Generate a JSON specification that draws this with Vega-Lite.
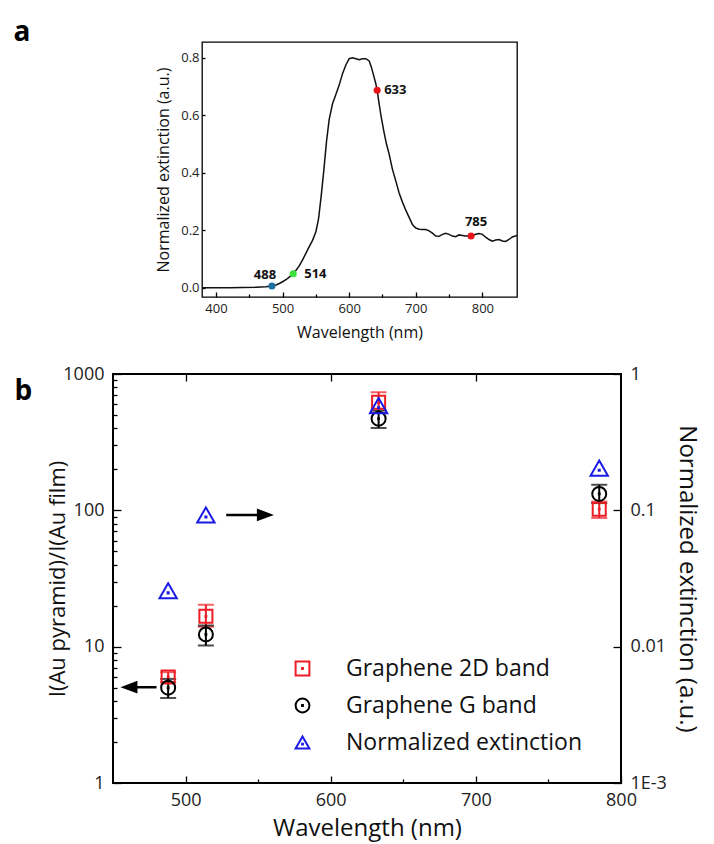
{
  "$schema": "https://vega.github.io/schema/vega-lite/v6.json",
  "padding": {"left": 13, "top": 19, "right": 5, "bottom": 2},
  "config": {
    "font": "Open Sans",
    "axis": {"titleFontWeight": "normal", "titleColor": "#111", "labelColor": "#222", "tickColor": "#000", "grid": false, "domain": false, "labelOverlap": false, "labelFlush": false, "tickWidth": 1.3},
    "legend": {"labelFontSize": 23, "labelColor": "#111", "symbolSize": 190, "symbolStrokeWidth": 2, "rowPadding": 13, "labelOffset": 32, "padding": 0, "labelLimit": 0, "symbolFillColor": "transparent"}
  },
  "title": {"text": "a", "anchor": "start", "frame": "bounds", "fontSize": 28, "fontWeight": "bold", "baseline": "alphabetic", "offset": -28, "color": "#000"},
  "datasets": {
    "curve": [
      {"wl": 379, "ext": 0.000}, {"wl": 400, "ext": 0.000}, {"wl": 420, "ext": 0.000}, {"wl": 440, "ext": 0.001},
      {"wl": 460, "ext": 0.002}, {"wl": 475, "ext": 0.004}, {"wl": 484, "ext": 0.006}, {"wl": 490, "ext": 0.010},
      {"wl": 495, "ext": 0.015}, {"wl": 500, "ext": 0.021}, {"wl": 505, "ext": 0.028}, {"wl": 510, "ext": 0.037},
      {"wl": 516, "ext": 0.049}, {"wl": 520, "ext": 0.060}, {"wl": 525, "ext": 0.076}, {"wl": 530, "ext": 0.097},
      {"wl": 535, "ext": 0.120}, {"wl": 540, "ext": 0.143}, {"wl": 545, "ext": 0.165}, {"wl": 550, "ext": 0.195},
      {"wl": 554, "ext": 0.240}, {"wl": 558, "ext": 0.320}, {"wl": 562, "ext": 0.410}, {"wl": 566, "ext": 0.510},
      {"wl": 570, "ext": 0.586}, {"wl": 575, "ext": 0.640}, {"wl": 580, "ext": 0.672}, {"wl": 585, "ext": 0.705},
      {"wl": 590, "ext": 0.745}, {"wl": 595, "ext": 0.775}, {"wl": 600, "ext": 0.797}, {"wl": 605, "ext": 0.800},
      {"wl": 610, "ext": 0.797}, {"wl": 615, "ext": 0.793}, {"wl": 620, "ext": 0.797}, {"wl": 625, "ext": 0.797},
      {"wl": 630, "ext": 0.789}, {"wl": 633, "ext": 0.770}, {"wl": 636, "ext": 0.745}, {"wl": 640, "ext": 0.710},
      {"wl": 642, "ext": 0.687}, {"wl": 645, "ext": 0.640}, {"wl": 648, "ext": 0.595}, {"wl": 652, "ext": 0.545},
      {"wl": 656, "ext": 0.500}, {"wl": 660, "ext": 0.465}, {"wl": 665, "ext": 0.412}, {"wl": 670, "ext": 0.372},
      {"wl": 675, "ext": 0.330}, {"wl": 680, "ext": 0.298}, {"wl": 685, "ext": 0.270}, {"wl": 690, "ext": 0.245},
      {"wl": 695, "ext": 0.220}, {"wl": 700, "ext": 0.208}, {"wl": 705, "ext": 0.204}, {"wl": 710, "ext": 0.203},
      {"wl": 715, "ext": 0.203}, {"wl": 720, "ext": 0.198}, {"wl": 725, "ext": 0.190}, {"wl": 730, "ext": 0.180},
      {"wl": 735, "ext": 0.179}, {"wl": 740, "ext": 0.186}, {"wl": 745, "ext": 0.190}, {"wl": 750, "ext": 0.186},
      {"wl": 755, "ext": 0.180}, {"wl": 760, "ext": 0.178}, {"wl": 765, "ext": 0.184}, {"wl": 770, "ext": 0.182},
      {"wl": 775, "ext": 0.180}, {"wl": 780, "ext": 0.180}, {"wl": 785, "ext": 0.181}, {"wl": 790, "ext": 0.186},
      {"wl": 795, "ext": 0.189}, {"wl": 800, "ext": 0.186}, {"wl": 805, "ext": 0.176}, {"wl": 810, "ext": 0.168},
      {"wl": 815, "ext": 0.162}, {"wl": 820, "ext": 0.166}, {"wl": 825, "ext": 0.168}, {"wl": 830, "ext": 0.163},
      {"wl": 835, "ext": 0.161}, {"wl": 840, "ext": 0.168}, {"wl": 845, "ext": 0.177}, {"wl": 852, "ext": 0.182}
    ],
    "marked": [
      {"wl": 484, "ext": 0.006, "name": "488"},
      {"wl": 516, "ext": 0.049, "name": "514"},
      {"wl": 642, "ext": 0.687, "name": "633"},
      {"wl": 783, "ext": 0.180, "name": "785"}
    ],
    "ratio": [
      {"series": "Graphene 2D band", "wl": 488, "val": 6.0, "lo": 5.5, "hi": 6.5},
      {"series": "Graphene 2D band", "wl": 514, "val": 16.7, "lo": 14.0, "hi": 20.3},
      {"series": "Graphene 2D band", "wl": 633, "val": 620, "lo": 520, "hi": 735},
      {"series": "Graphene 2D band", "wl": 785, "val": 102, "lo": 88, "hi": 116},
      {"series": "Graphene G band", "wl": 488, "val": 5.0, "lo": 4.2, "hi": 5.8},
      {"series": "Graphene G band", "wl": 514, "val": 12.3, "lo": 10.2, "hi": 14.3},
      {"series": "Graphene G band", "wl": 633, "val": 470, "lo": 402, "hi": 540},
      {"series": "Graphene G band", "wl": 785, "val": 132, "lo": 113, "hi": 154}
    ],
    "extn": [
      {"series": "Normalized extinction", "wl": 488, "val": 0.0257},
      {"series": "Normalized extinction", "wl": 514, "val": 0.0925},
      {"series": "Normalized extinction", "wl": 633, "val": 0.586},
      {"series": "Normalized extinction", "wl": 785, "val": 0.204}
    ],
    "arrows": [
      {"dir": "right", "x1": 528, "x2": 555, "y": 92.5},
      {"dir": "left", "x1": 480, "x2": 461, "y": 5.04}
    ]
  },
  "spacing": 23,
  "resolve": {"scale": {"color": "independent", "shape": "independent"}},
  "vconcat": [
    {
      "spacing": 0,
      "hconcat": [
        {"width": 42, "height": 10, "data": {"values": []}, "mark": "point", "view": {"stroke": null}},
        {
          "width": 315,
          "height": 255,
          "view": {"stroke": "#000", "strokeWidth": 1.3},
          "encoding": {
            "x": {"field": "wl", "type": "quantitative",
              "scale": {"domain": [379, 852], "nice": false, "zero": false},
              "axis": {"title": "Wavelength (nm)", "values": [400, 450, 500, 550, 600, 650, 700, 750, 800],
                "labelExpr": "datum.value % 100 == 0 ? datum.label : ''",
                "tickSize": {"condition": {"test": "datum.value % 100 == 0", "value": -5}, "value": -3},
                "labelFontSize": 13, "titleFontSize": 16, "labelPadding": 10, "titlePadding": 7}},
            "y": {"field": "ext", "type": "quantitative",
              "scale": {"domain": [-0.032, 0.855], "nice": false, "zero": false},
              "axis": {"title": "Normalized extinction (a.u.)", "values": [0, 0.2, 0.4, 0.6, 0.8], "format": ".1f",
                "tickSize": -3, "labelFontSize": 13, "titleFontSize": 16, "labelPadding": 6, "titlePadding": 9}}
          },
          "layer": [
            {"data": {"name": "curve"}, "mark": {"type": "line", "color": "#111", "strokeWidth": 1.5, "clip": true}},
            {"data": {"name": "marked"}, "mark": {"type": "point", "filled": true, "size": 50, "opacity": 1},
              "encoding": {"color": {"field": "name", "type": "nominal", "legend": null,
                "scale": {"domain": ["488", "514", "633", "785"], "range": ["#1c6fa3", "#3ae23a", "#e8141a", "#e8141a"]}}}},
            {"data": {"name": "marked"}, "transform": [{"filter": "datum.name == '488'"}],
              "mark": {"type": "text", "fontWeight": "bold", "fontSize": 13, "align": "center", "baseline": "middle", "dx": -7, "dy": -11, "color": "#111"},
              "encoding": {"text": {"field": "name"}}},
            {"data": {"name": "marked"}, "transform": [{"filter": "datum.name == '785'"}],
              "mark": {"type": "text", "fontWeight": "bold", "fontSize": 13, "align": "center", "baseline": "middle", "dx": 5, "dy": -14, "color": "#111"},
              "encoding": {"text": {"field": "name"}}},
            {"data": {"name": "marked"}, "transform": [{"filter": "datum.name == '514'"}],
              "mark": {"type": "text", "fontWeight": "bold", "fontSize": 13, "align": "left", "baseline": "middle", "dx": 11, "dy": 0, "color": "#111"},
              "encoding": {"text": {"field": "name"}}},
            {"data": {"name": "marked"}, "transform": [{"filter": "datum.name == '633'"}],
              "mark": {"type": "text", "fontWeight": "bold", "fontSize": 13, "align": "left", "baseline": "middle", "dx": 7, "dy": 0, "color": "#111"},
              "encoding": {"text": {"field": "name"}}}
          ]
        }
      ]
    },
    {
      "width": 508,
      "height": 409,
      "title": {"text": "b", "orient": "left", "angle": 0, "anchor": "end", "frame": "group", "align": "right", "baseline": "top", "fontSize": 28, "fontWeight": "bold", "offset": -3, "dy": 4, "color": "#000"},
      "view": {"stroke": "#000", "strokeWidth": 2},
      "resolve": {"scale": {"y": "independent"}, "axis": {"y": "independent", "x": "independent"}},
      "layer": [
        {
          "encoding": {
            "x": {"field": "wl", "type": "quantitative",
              "scale": {"domain": [450, 800], "nice": false, "zero": false},
              "axis": {"orient": "bottom", "title": "Wavelength (nm)", "values": [500, 550, 600, 650, 700, 750, 800],
                "labelExpr": "datum.value % 100 == 0 ? datum.label : ''",
                "tickSize": {"condition": {"test": "datum.value % 100 == 0", "value": -7}, "value": -4},
                "labelFontSize": 18, "titleFontSize": 24, "labelPadding": 15, "titlePadding": 4}}
          },
          "layer": [
            {"data": {"name": "ratio"}, "transform": [{"filter": "datum.series == 'Graphene 2D band'"}],
              "mark": {"type": "errorbar", "ticks": {"size": 16, "thickness": 2, "color": "#ee1c24"}, "rule": {"strokeWidth": 2, "color": "#ee1c24"}},
              "encoding": {
                "y": {"field": "lo", "type": "quantitative", "title": "I(Au pyramid)/I(Au film)",
                  "scale": {"type": "log", "domain": [1, 1000], "nice": false},
                  "axis": {"orient": "left", "title": "I(Au pyramid)/I(Au film)",
                    "values": [1, 2, 3, 4, 5, 6, 7, 8, 9, 10, 20, 30, 40, 50, 60, 70, 80, 90, 100, 200, 300, 400, 500, 600, 700, 800, 900, 1000],
                    "format": "d",
                    "labelExpr": "(datum.value == 1 || datum.value == 10 || datum.value == 100 || datum.value == 1000) ? datum.label : ''",
                    "tickSize": {"condition": {"test": "datum.value == 1 || datum.value == 10 || datum.value == 100 || datum.value == 1000", "value": -8}, "value": -4},
                    "labelFontSize": 18, "titleFontSize": 22, "labelPadding": 17, "titlePadding": -7}},
                "y2": {"field": "hi"}
              }},
            {"data": {"name": "ratio"}, "transform": [{"filter": "datum.series == 'Graphene G band'"}],
              "mark": {"type": "errorbar", "ticks": {"size": 16, "thickness": 2, "color": "#000"}, "rule": {"strokeWidth": 2, "color": "#000"}},
              "encoding": {"y": {"field": "lo", "type": "quantitative", "title": "I(Au pyramid)/I(Au film)"}, "y2": {"field": "hi"}}},
            {"data": {"name": "ratio"}, "transform": [{"filter": "datum.series == 'Graphene 2D band'"}],
              "mark": {"type": "point", "filled": false, "strokeWidth": 2, "size": 170, "opacity": 1},
              "encoding": {
                "y": {"field": "val", "type": "quantitative", "title": "I(Au pyramid)/I(Au film)"},
                "color": {"field": "series", "type": "nominal",
                  "scale": {"domain": ["Graphene 2D band", "Graphene G band", "Normalized extinction"], "range": ["#ee1c24", "#000000", "#1a1ae6"]},
                  "legend": {"title": null, "orient": "none", "legendX": 178, "legendY": 283}},
                "shape": {"field": "series", "type": "nominal",
                  "scale": {"domain": ["Graphene 2D band", "Graphene G band", "Normalized extinction"],
                    "range": [
                      "M-1,-1L1,-1L1,1L-1,1Z M-0.06,-0.06L0.06,-0.06L0.06,0.06L-0.06,0.06Z",
                      "M-1,0A1,1,0,1,1,1,0A1,1,0,1,1,-1,0Z M-0.06,-0.06L0.06,-0.06L0.06,0.06L-0.06,0.06Z",
                      "M0,-0.87L1,0.87L-1,0.87Z M-0.06,0.18L0.06,0.18L0.06,0.3L-0.06,0.3Z"
                    ]},
                  "legend": {"title": null, "orient": "none", "legendX": 178, "legendY": 283}}
              }},
            {"data": {"name": "ratio"}, "transform": [{"filter": "datum.series == 'Graphene G band'"}],
              "mark": {"type": "point", "filled": false, "strokeWidth": 2, "size": 196, "opacity": 1},
              "encoding": {
                "y": {"field": "val", "type": "quantitative", "title": "I(Au pyramid)/I(Au film)"},
                "color": {"field": "series", "type": "nominal"},
                "shape": {"field": "series", "type": "nominal"}
              }},
            {"data": {"name": "arrows"}, "mark": {"type": "rule", "strokeWidth": 2.5, "color": "#000"},
              "encoding": {"x": {"field": "x1", "type": "quantitative"}, "x2": {"field": "x2"}, "y": {"field": "y", "type": "quantitative", "title": "I(Au pyramid)/I(Au film)"}}},
            {"data": {"name": "arrows"}, "transform": [{"filter": "datum.dir == 'right'"}],
              "mark": {"type": "point", "filled": true, "shape": "M1,0L-1,-0.75L-1,0.75Z", "size": 289, "color": "#000", "opacity": 1},
              "encoding": {"x": {"field": "x2", "type": "quantitative"}, "y": {"field": "y", "type": "quantitative", "title": "I(Au pyramid)/I(Au film)"}}},
            {"data": {"name": "arrows"}, "transform": [{"filter": "datum.dir == 'left'"}],
              "mark": {"type": "point", "filled": true, "shape": "M-1,0L1,-0.75L1,0.75Z", "size": 289, "color": "#000", "opacity": 1},
              "encoding": {"x": {"field": "x2", "type": "quantitative"}, "y": {"field": "y", "type": "quantitative", "title": "I(Au pyramid)/I(Au film)"}}}
          ]
        },
        {
          "data": {"name": "extn"},
          "mark": {"type": "point", "filled": false, "strokeWidth": 2, "size": 300, "opacity": 1},
          "encoding": {
            "x": {"field": "wl", "type": "quantitative",
              "axis": {"orient": "top", "title": null, "labels": false, "values": [500, 600, 700], "tickSize": -7}},
            "y": {"field": "val", "type": "quantitative",
              "scale": {"type": "log", "domain": [0.001, 1], "nice": false},
              "axis": {"orient": "right", "title": "Normalized extinction (a.u.)", "values": [0.001, 0.01, 0.1, 1], "format": "~g",
                "labelExpr": "datum.value < 0.005 ? '1E-3' : datum.label",
                "tickSize": -8, "labelFontSize": 18, "titleFontSize": 24, "labelPadding": 17, "titlePadding": 8}},
            "color": {"field": "series", "type": "nominal"},
            "shape": {"field": "series", "type": "nominal"}
          }
        }
      ]
    }
  ]
}
